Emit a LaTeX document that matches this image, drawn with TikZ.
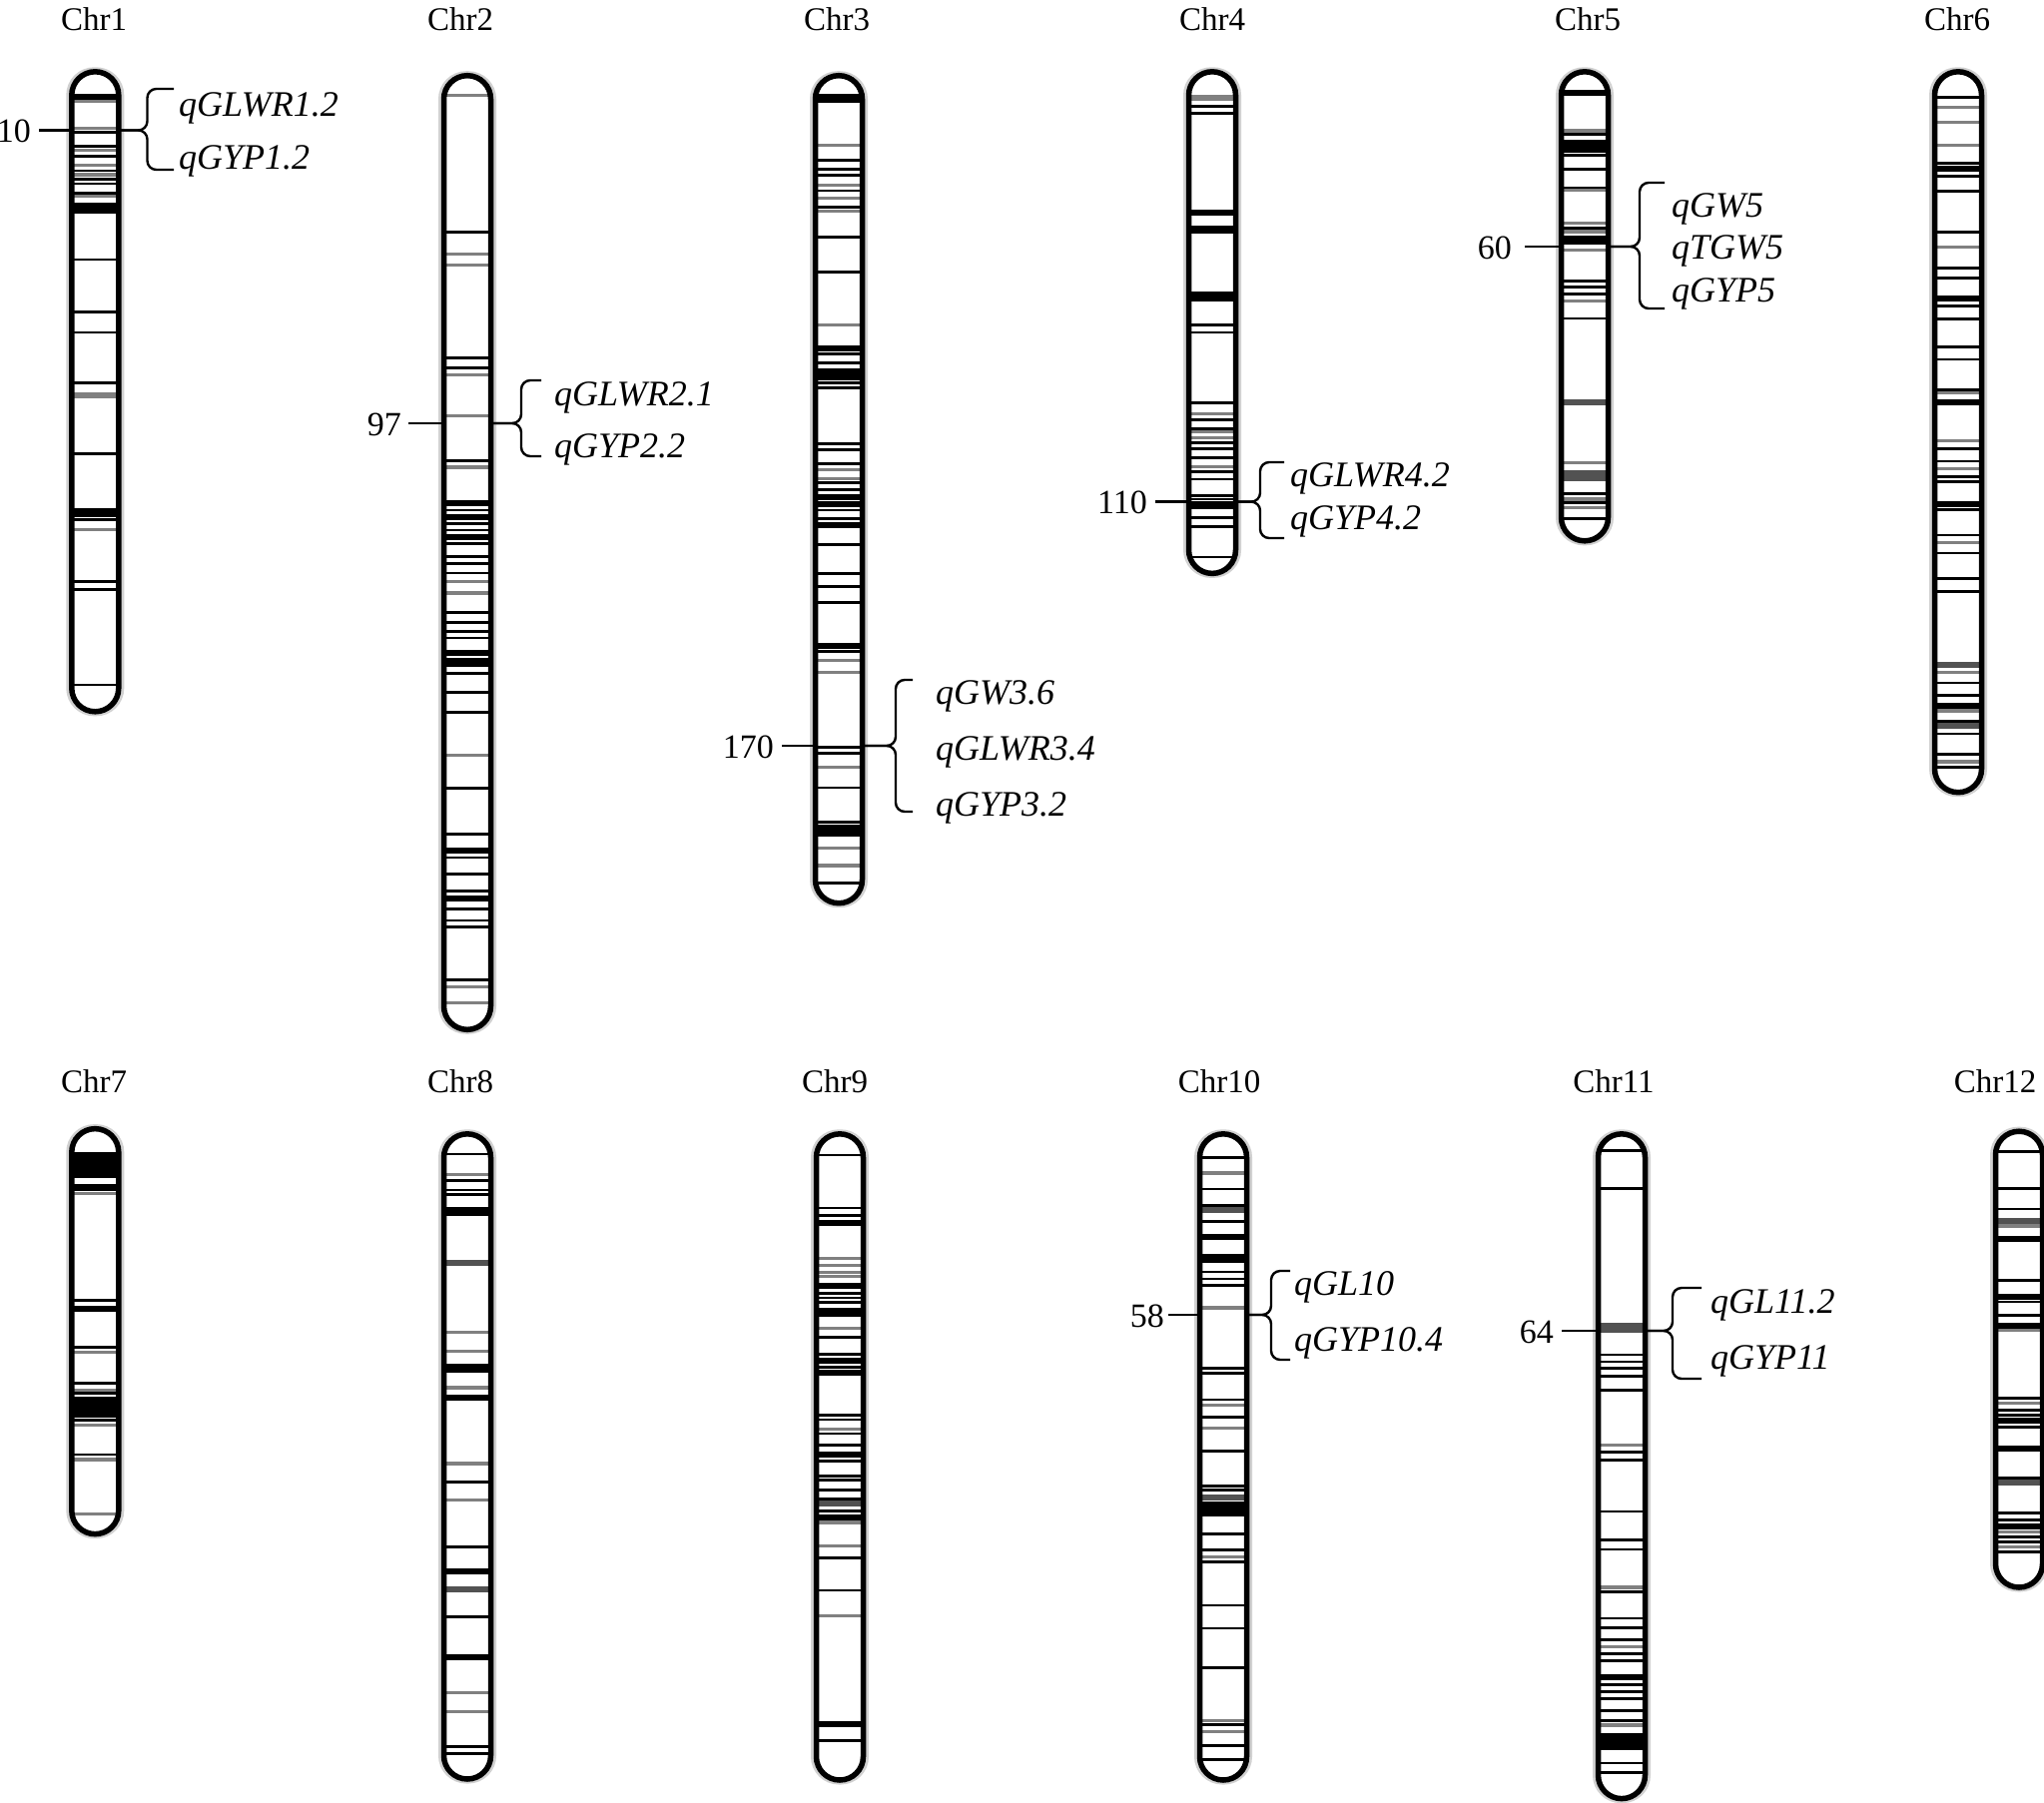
\documentclass[tikz,border=0pt]{standalone}
\usepackage{fontspec}
\setmainfont{Liberation Serif}
\tikzset{
 capsule/.style={line width=5.5pt, rounded corners=23.5pt},
 halo/.style={line width=9pt, draw=black!18, rounded corners=23.5pt},
 bandd/.style={line width=2.8pt},
 bandD/.style={line width=6pt},
 bandg/.style={line width=3.2pt, draw=black!50},
 bandG/.style={line width=6pt, draw=black!68},
 tickline/.style={line width=2.4pt},
 qbrace/.style={line width=2.4pt, rounded corners=9pt},
 chrlab/.style={font=\fontsize{33}{33}\selectfont, inner sep=0pt, anchor=base},
 numlab/.style={font=\fontsize{34}{34}\selectfont, inner sep=0pt, anchor=base east},
 qtllab/.style={font=\fontsize{36}{36}\selectfont\itshape, inner sep=0pt, anchor=base west},
}
% #1 x centre, #2 top, #3 bottom, #4 zoom top, #5 zoom bottom, #6 bands
\newcommand{\drawchrom}[6]{%
 \pgfmathsetmacro{\cxc}{#1}%
 \pgfmathsetmacro{\csc}{(#3-#2)/(#5-#4)}%
 \draw[halo] (\cxc-24.5,#2) rectangle (\cxc+24.5,#3);
 \fill[white, rounded corners=23.5pt] (\cxc-23.5,#2) rectangle (\cxc+23.5,#3);
 \foreach \by/\bt in {#6}{%
   \pgfmathsetmacro{\yy}{#2+(\by-#4)*\csc}%
   \draw[band\bt] (\cxc-21,\yy) -- (\cxc+21,\yy);
 }%
 \draw[capsule] (\cxc-23.5,#2) rectangle (\cxc+23.5,#3);
}
\begin{document}
\begin{tikzpicture}[x=1pt,y=-1pt]
\useasboundingbox (0,0) rectangle (2047,1805);
\fill[white] (0,0) rectangle (2047,1805);

% chromosome labels
\node[chrlab] (L1) at (94,30) {Chr1};
\node[chrlab] (L2) at (461,30) {Chr2};
\node[chrlab] (L3) at (838,30) {Chr3};
\node[chrlab] (L4) at (1214,30) {Chr4};
\node[chrlab] (L5) at (1590,30) {Chr5};
\node[chrlab] (L6) at (1960,30) {Chr6};
\node[chrlab] (L7) at (94,1094) {Chr7};
\node[chrlab] (L8) at (461,1094) {Chr8};
\node[chrlab] (L9) at (836,1094) {Chr9};
\node[chrlab] (L10) at (1221,1094) {Chr10};
\node[chrlab] (L11) at (1616,1094) {Chr11};
\node[chrlab] (L12) at (1998,1094) {Chr12};

% Chr1
\drawchrom{95.3}{71.8}{712.8}{155}{1595}{212/D,222/g,282/g,292/d,322/d,332/g,345/d,365/g,378/d,387/g,397/d,407/d,428/d,436/g,457/D,465/D,472/d,578/d,695/d,742/d,855/d,880/g,886/g,1015/d,1143/D,1150/D,1163/d,1185/g,1303/d,1320/d,1535/d}
% Chr2
\drawchrom{468}{75.7}{1031.3}{118}{1560}{148/g,355/d,388/g,405/g,545/d,560/d,570/g,632/g,700/d,710/g,765/D,775/d,785/D,795/d,805/d,815/D,825/d,845/d,855/d,870/d,883/g,900/g,930/d,945/d,958/d,968/d,990/D,1003/D,1010/d,1022/d,1050/d,1080/d,1145/g,1195/d,1265/d,1290/D,1300/d,1325/d,1350/d,1362/D,1378/d,1395/d,1405/d,1485/d,1495/g,1520/g}
% Chr3
\drawchrom{840}{75.7}{904.7}{128}{1560}{165/D,172/d,248/g,275/d,290/d,300/d,318/g,327/d,340/g,355/d,362/g,408/d,468/d,560/g,600/D,610/d,625/d,640/D,650/D,660/d,668/d,765/d,775/d,800/d,810/g,825/g,833/d,845/d,858/D,870/D,880/d,895/d,905/D,940/d,990/d,1012/d,1040/d,1115/D,1125/d,1140/g,1160/g,1290/d,1300/d,1325/g,1360/d,1420/d,1430/D,1440/D,1465/g,1495/g,1525/d}
% Chr4
\drawchrom{1214}{71.8}{574.4}{185}{1570}{252/g,262/g,280/d,300/d,575/D,615/d,625/D,800/D,810/D,885/d,905/d,1100/d,1130/g,1145/d,1170/d,1180/g,1195/g,1210/d,1225/d,1250/d,1275/g,1290/d,1310/d,1355/d,1365/d,1378/D,1385/D,1415/d,1440/d,1525/d}
% Chr5
\drawchrom{1587}{71.8}{541.8}{205}{1555}{265/D,375/g,385/d,410/D,420/D,430/D,445/d,485/d,540/d,545/g,640/g,655/d,665/g,685/D,695/D,718/g,808/d,825/d,845/d,865/g,915/d,1155/G,1330/g,1360/G,1375/G,1420/d,1435/g,1445/d,1460/g,1490/d}
% Chr6
\drawchrom{1961}{71.8}{793.7}{140}{1555}{190/d,210/g,240/g,285/g,320/d,330/D,345/d,375/d,455/d,485/g,525/d,545/d,585/D,600/d,625/d,680/d,705/d,765/d,770/g,790/D,865/g,880/d,905/d,920/g,935/d,945/d,990/D,1000/d,1050/d,1065/g,1085/d,1135/d,1160/d,1305/G,1320/g,1340/d,1365/d,1385/D,1395/g,1415/d,1425/G,1440/d,1480/d,1495/g,1505/d}
% Chr7
\drawchrom{95.3}{1130.6}{1536.6}{230}{1455}{305/d,320/D,330/D,345/D,360/D,375/d,400/d,410/D,425/g,748/d,775/D,890/d,905/g,1000/d,1020/g,1030/d,1050/D,1065/D,1080/D,1095/D,1110/d,1125/g,1215/d,1230/g,1395/g}
% Chr8
\drawchrom{468}{1135.8}{1782}{175}{1555}{218/d,262/g,275/d,295/d,305/d,335/d,345/D,450/G,600/g,640/g,670/d,680/D,718/g,740/D,880/g,920/d,958/g,1058/d,1110/D,1150/G,1208/d,1295/D,1370/g,1410/g,1485/d,1500/d}
% Chr9
\drawchrom{841}{1135.8}{1783}{170}{1550}{215/d,328/d,345/d,360/D,435/g,450/g,465/g,475/g,495/D,510/d,520/d,530/d,545/d,555/D,585/g,605/d,640/d,655/D,668/d,680/D,770/d,780/d,800/g,810/d,835/d,855/D,868/d,900/d,910/d,930/d,950/d,960/G,975/d,990/D,1000/g,1050/g,1075/d,1145/d,1200/g,1430/D,1465/d}
% Chr10
\drawchrom{1225}{1135.8}{1783}{170}{1575}{222/d,255/g,290/d,325/d,335/G,360/d,395/D,435/d,445/D,470/d,485/d,500/d,548/g,680/d,690/d,748/d,760/g,785/d,810/g,860/d,935/d,945/d,960/G,975/D,985/D,995/D,1040/d,1075/d,1090/g,1100/d,1195/d,1245/d,1330/d,1445/g,1455/d,1470/g,1500/d,1530/d}
% Chr11
\drawchrom{1624}{1135.8}{1801.6}{175}{1575}{210/d,290/d,580/G,588/G,640/d,655/d,668/d,685/d,715/d,830/g,845/d,862/d,970/d,1030/d,1050/d,1130/g,1140/d,1195/d,1215/d,1240/d,1255/g,1270/d,1285/d,1320/D,1335/d,1350/d,1365/d,1390/d,1410/d,1420/g,1440/d,1450/D,1460/D,1470/d,1500/d,1520/d}
% Chr12
\drawchrom{2022}{1133.2}{1590}{225}{1575}{285/d,395/d,455/d,490/G,505/g,545/D,665/d,715/D,730/d,770/d,800/D,815/g,1015/d,1030/g,1050/d,1065/d,1080/D,1100/d,1165/D,1255/D,1265/G,1355/d,1375/d,1395/D,1410/g,1425/d,1440/d,1455/g,1470/d}

% ---- QTL annotations ----
% Chr1
\node[numlab] (n1) at (31,142.5) {10};
\coordinate (k1a) at (39,130.5); \coordinate (k1b) at (71.8,130.5);
\coordinate (r1) at (118.8,130.5);
\draw[tickline] (k1a) -- (k1b);
\draw[qbrace] (174,89) -- (147.5,89) -- (147.5,130.5) -- (r1);
\draw[qbrace] (174,170) -- (147.5,170) -- (147.5,130.5) -- (r1);
\node[qtllab] (q1a) at (179,116) {qGLWR1.2};
\node[qtllab] (q1b) at (179,169) {qGYP1.2};

% Chr2
\node[numlab] (n2) at (402,436) {97};
\coordinate (k2a) at (409,424); \coordinate (k2b) at (444.5,424);
\coordinate (r2) at (491.5,424);
\draw[tickline] (k2a) -- (k2b);
\draw[qbrace] (542,381) -- (522,381) -- (522,424) -- (r2);
\draw[qbrace] (542,457) -- (522,457) -- (522,424) -- (r2);
\node[qtllab] (q2a) at (555,406) {qGLWR2.1};
\node[qtllab] (q2b) at (555,458) {qGYP2.2};

% Chr3
\node[numlab] (n3) at (775,759) {170};
\coordinate (k3a) at (783,747); \coordinate (k3b) at (816.5,747);
\coordinate (r3) at (863.5,747);
\draw[tickline] (k3a) -- (k3b);
\draw[qbrace] (914,681) -- (897,681) -- (897,747) -- (r3);
\draw[qbrace] (914,813) -- (897,813) -- (897,747) -- (r3);
\node[qtllab] (q3a) at (937,705) {qGW3.6};
\node[qtllab] (q3b) at (937,761) {qGLWR3.4};
\node[qtllab] (q3c) at (937,817) {qGYP3.2};

% Chr4
\node[numlab] (n4) at (1149,514.6) {110};
\coordinate (k4a) at (1157,502.6); \coordinate (k4b) at (1190.5,502.6);
\coordinate (r4) at (1237.5,502.6);
\draw[tickline] (k4a) -- (k4b);
\draw[qbrace] (1286,463) -- (1262,463) -- (1262,502.6) -- (r4);
\draw[qbrace] (1286,539) -- (1262,539) -- (1262,502.6) -- (r4);
\node[qtllab] (q4a) at (1292,487) {qGLWR4.2};
\node[qtllab] (q4b) at (1292,530) {qGYP4.2};

% Chr5
\node[numlab] (n5) at (1514,259) {60};
\coordinate (k5a) at (1527,247); \coordinate (k5b) at (1563.5,247);
\coordinate (r5) at (1610.5,247);
\draw[tickline] (k5a) -- (k5b);
\draw[qbrace] (1667,183) -- (1642,183) -- (1642,247) -- (r5);
\draw[qbrace] (1667,309) -- (1642,309) -- (1642,247) -- (r5);
\node[qtllab] (q5a) at (1674,217) {qGW5};
\node[qtllab] (q5b) at (1674,259) {qTGW5};
\node[qtllab] (q5c) at (1674,302) {qGYP5};

% Chr10
\node[numlab] (n10) at (1166,1329) {58};
\coordinate (k10a) at (1170,1317); \coordinate (k10b) at (1201.5,1317);
\coordinate (r10) at (1248.5,1317);
\draw[tickline] (k10a) -- (k10b);
\draw[qbrace] (1292,1273) -- (1273,1273) -- (1273,1317) -- (r10);
\draw[qbrace] (1292,1362) -- (1273,1362) -- (1273,1317) -- (r10);
\node[qtllab] (q10a) at (1296,1297) {qGL10};
\node[qtllab] (q10b) at (1296,1353) {qGYP10.4};

% Chr11
\node[numlab] (n11) at (1556,1345) {64};
\coordinate (k11a) at (1564,1333); \coordinate (k11b) at (1600.5,1333);
\coordinate (r11) at (1647.5,1333);
\draw[tickline] (k11a) -- (k11b);
\draw[qbrace] (1704,1290) -- (1675,1290) -- (1675,1333) -- (r11);
\draw[qbrace] (1704,1381) -- (1675,1381) -- (1675,1333) -- (r11);
\node[qtllab] (q11a) at (1713,1315) {qGL11.2};
\node[qtllab] (q11b) at (1713,1371) {qGYP11};
\end{tikzpicture}
\end{document}
